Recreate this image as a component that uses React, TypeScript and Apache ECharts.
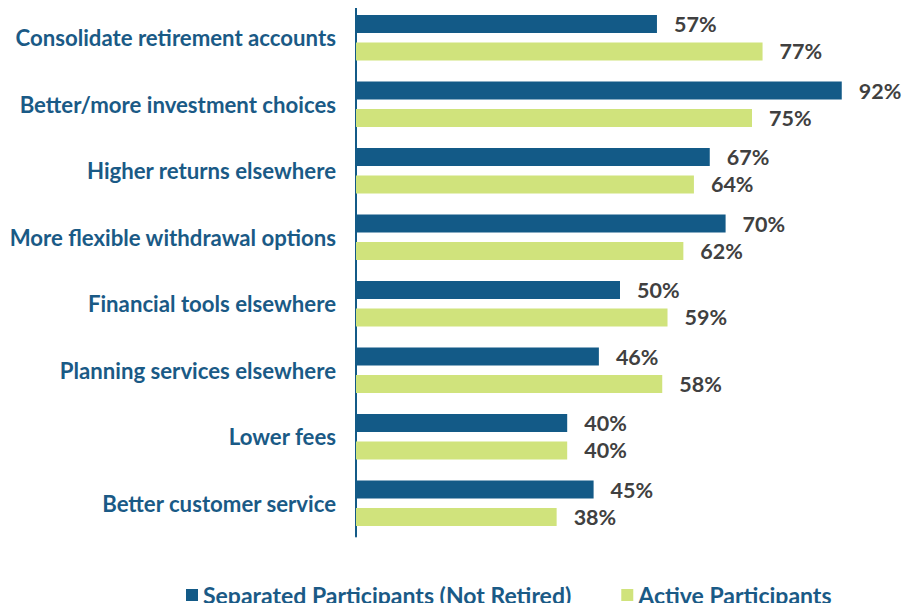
import React, { useEffect, useRef } from "react";
import * as echarts from "echarts";

const categories = [
  "Consolidate retirement accounts",
  "Better/more investment choices",
  "Higher returns elsewhere",
  "More flexible withdrawal options",
  "Financial tools elsewhere",
  "Planning services elsewhere",
  "Lower fees",
  "Better customer service",
];
const separated = [57, 92, 67, 70, 50, 46, 40, 45];
const active = [77, 75, 64, 62, 59, 58, 40, 38];
const seriesNames = ["Separated Participants (Not Retired)", "Active Participants"];

const DARK = "#135a87";
const LIGHT = "#d0e37c";
const FONT = "Lato, 'Open Sans', sans-serif";

export default function App() {
  const ref = useRef<HTMLDivElement>(null);
  useEffect(() => {
    if (!ref.current) return;
    const chart = echarts.init(ref.current, undefined, { renderer: "svg" });
    const label = {
      show: true,
      position: "right",
      distance: 17,
      formatter: "{c}%",
      color: "#404040",
      fontFamily: FONT,
      fontWeight: "bold",
      fontSize: 21.5,
    };
    chart.setOption({
      animation: false,
      grid: { left: 356, right: 38, top: 4.5, bottom: 74.5, containLabel: false },
      legend: {
        top: 582,
        left: 186,
        padding: 0,
        itemWidth: 12,
        itemHeight: 12,
        itemGap: 50,
        icon: "rect",
        textStyle: { color: "#1a5a86", fontFamily: FONT, fontWeight: "bold", fontSize: 23, lineHeight: 26 },
        data: seriesNames,
      },
      xAxis: {
        type: "value",
        min: 0,
        max: 100,
        show: false,
      },
      yAxis: {
        type: "category",
        inverse: true,
        data: categories,
        axisLine: { show: true, lineStyle: { color: DARK, width: 2 } },
        axisTick: { show: false },
        axisLabel: {
          margin: 20,
          color: "#1a5a86",
          fontFamily: FONT,
          fontWeight: "bold",
          fontSize: 22.2,
        },
      },
      series: [
        {
          name: seriesNames[0],
          type: "bar",
          data: separated,
          barWidth: 18,
          barGap: "52%",
          itemStyle: { color: DARK },
          label,
        },
        {
          name: seriesNames[1],
          type: "bar",
          data: active,
          barWidth: 18,
          itemStyle: { color: LIGHT },
          label,
        },
      ],
    });
    return () => chart.dispose();
  }, []);
  return <div ref={ref} style={{ width: 922, height: 611, margin: -8 }} />;
}
